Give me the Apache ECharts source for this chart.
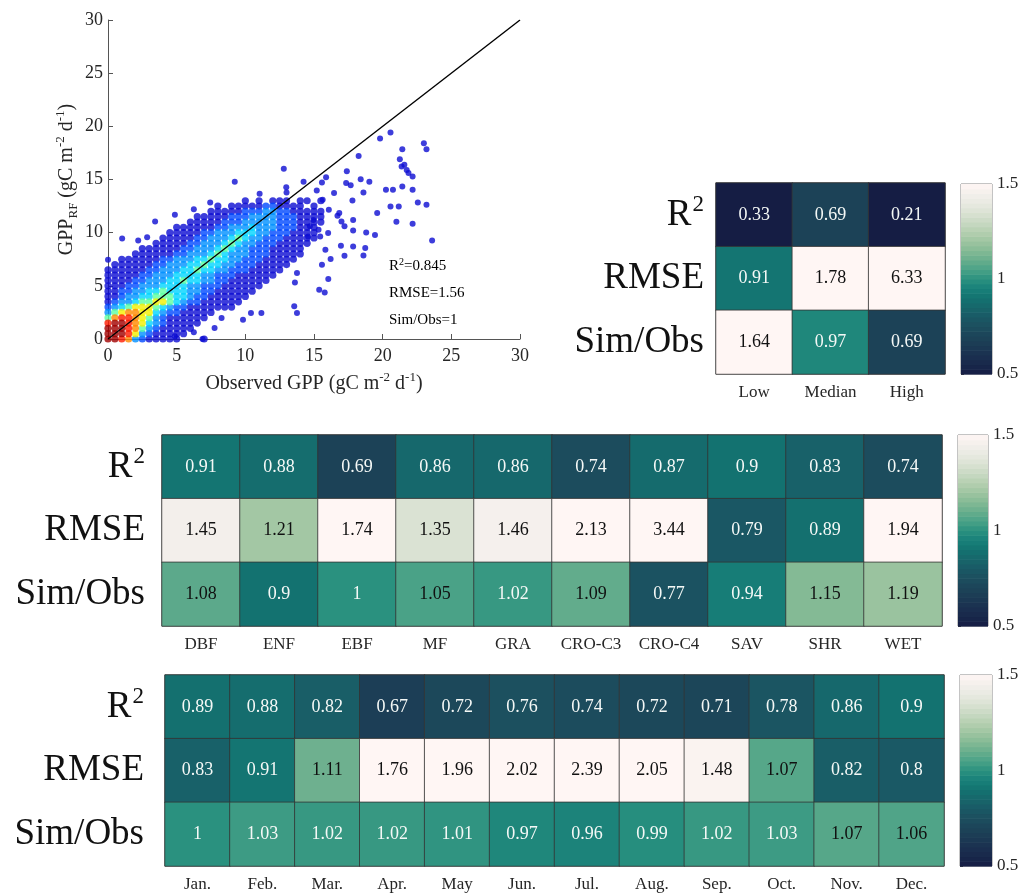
<!DOCTYPE html>
<html><head><meta charset="utf-8">
<script src="https://cdn.jsdelivr.net/npm/echarts@6/dist/echarts.min.js"></script>
<style>html,body{margin:0;padding:0;background:#fff}#c{width:1022px;height:895px}</style>
</head><body><div id="c"></div>
<script>
// ---------------- DATA ----------------
// Scatter density: rows from y=0 upward, step 0.5; columns x=0..., step 0.5
// '.' = no points, 1..9 = point-density level (1 = blue ... 9 = dark red)
const GRID_STEP = 0.5;
const densityRows = [
  "99873211111...1",                      // y=0
  "999863211111",                         // y=0.5
  "9998753211111",                        // y=1
  "89987643211111",                       // y=1.5
  "578876532111111",                      // y=2
  "3567766432211111",                     // y=2.5
  "2345666543221111111",                  // y=3
  "12334556654322111111",                 // y=3.5
  "112334455544322111111",                // y=4
  "1122334454443322111111",               // y=4.5
  "11122333444433222111111",              // y=5
  "111122333445443322111111",             // y=5.5
  "1111122333444433222111111",            // y=6
  "11111122333445443322211111",           // y=6.5
  ".11111122333445443322211111",          // y=7
  "..11111122333445443322211111",         // y=7.5
  "....1111112233345433322211111",        // y=8
  ".....111111223334543322211111",        // y=8.5
  ".......11111223334543322211111",       // y=9
  "........11111223334543322211111",      // y=9.5
  ".........1111122333444332221111",      // y=10
  "..........111111223334333222111",      // y=10.5
  "............11111222333332221111",     // y=11
  ".............1111122233332221111",     // y=11.5
  "...............11111222332211111",     // y=12
  "................1.11111221111.1",      // y=12.5
  "....................1.1.111.11.1"      // y=13
];
// isolated points outside the dense cloud [observed, simulated]
const outlierPoints = [
  [0,7.45],[1.03,9.46],[2.2,9.27],[2.85,9.58],[3.43,11.05],[4.87,11.68],[6.25,12.2],[7.44,12.84],
  [9.23,14.8],[11.04,13.65],[12.8,16.0],[12.98,14.28],[13.0,13.78],[14.24,14.8],[15.2,13.97],
  [15.58,14.72],[15.88,15.22],[15.63,13.09],[16.46,13.72],[16.71,11.6],[17.0,11.05],[17.39,15.78],
  [17.67,14.47],[17.8,13.03],[17.85,11.2],[18.25,17.22],[18.4,15.03],[18.6,13.78],[19.03,14.78],
  [19.81,18.85],[20.57,19.42],[19.6,11.84],[19.44,9.77],[18.8,10.02],[17.85,10.21],[17.85,8.71],
  [18.73,8.55],[18.6,7.86],[17.22,7.83],[16.96,8.77],[21.43,17.85],[21.38,16.22],[21.58,16.38],
  [21.75,15.9],[21.88,15.6],[22.18,15.28],[23.0,18.42],[23.19,17.85],[20.24,14.03],[20.75,14.03],
  [20.57,12.46],[21.17,12.46],[21.43,14.34],[21.25,16.9],[22.18,14.03],[22.56,12.84],[23.19,12.62],
  [21.0,11.02],[22.18,10.84],[23.6,9.27],[15.58,6.98],[16.21,7.52],[16.04,5.64],[15.38,4.64],
  [15.78,4.38],[13.76,6.2],[13.61,5.32],[13.56,3.07],[13.76,2.44],[11.17,2.44],[10.41,2.44],
  [9.83,1.82],[8.27,1.97],[7.76,1.03],[6.88,0],[6.25,0.63],[4.87,0.25],[14.57,9.65],[14.7,10.6],
  [14.95,11.2],[16.08,12.15],[16.84,11.84],[17.22,10.6],[16.03,9.96],[15.33,10.27],[15.83,8.39],
  [15.45,9.65],[17.34,14.66]
];
const oneToOne = [[0,0],[30,30]];
const scatterTicks = [0, 30, 5]; // min, max, interval

const metrics = ['R2', 'RMSE', 'Sim/Obs'];

const sizeCats    = ['Low', 'Median', 'High'];
const sizeR2      = [0.33, 0.69, 0.21];
const sizeRMSE    = [0.91, 1.78, 6.33];
const sizeSimObs  = [1.64, 0.97, 0.69];

const pftCats     = ['DBF','ENF','EBF','MF','GRA','CRO-C3','CRO-C4','SAV','SHR','WET'];
const pftR2       = [0.91, 0.88, 0.69, 0.86, 0.86, 0.74, 0.87, 0.9, 0.83, 0.74];
const pftRMSE     = [1.45, 1.21, 1.74, 1.35, 1.46, 2.13, 3.44, 0.79, 0.89, 1.94];
const pftSimObs   = [1.08, 0.9, 1, 1.05, 1.02, 1.09, 0.77, 0.94, 1.15, 1.19];

const monthCats   = ['Jan.','Feb.','Mar.','Apr.','May','Jun.','Jul.','Aug.','Sep.','Oct.','Nov.','Dec.'];
const monR2       = [0.89, 0.88, 0.82, 0.67, 0.72, 0.76, 0.74, 0.72, 0.71, 0.78, 0.86, 0.9];
const monRMSE     = [0.83, 0.91, 1.11, 1.76, 1.96, 2.02, 2.39, 2.05, 1.48, 1.07, 0.82, 0.8];
const monSimObs   = [1, 1.03, 1.02, 1.02, 1.01, 0.97, 0.96, 0.99, 1.02, 1.03, 1.07, 1.06];

const cbTicks = [0.5, 1.5, 0.5]; // colorbar min, max, interval

// ---------------- STYLE ----------------
const FONT = "'Liberation Serif','Times New Roman',Times,serif";
const TXT = '#262626';
const jetLevels = ['', '#0c0cd2', '#0048ff', '#0090ff', '#00d4ff', '#5cffa0', '#f4f000', '#ff8a00', '#ff1a00', '#a00000'];
const cmapStops = [
  [0.50,'#151d44'],[0.60,'#1b3150'],[0.70,'#1c4458'],[0.75,'#1c4e5e'],[0.80,'#1a5965'],
  [0.85,'#17666b'],[0.90,'#137270'],[0.95,'#188079'],[1.00,'#2a917f'],[1.05,'#4aa287'],
  [1.10,'#68ae8d'],[1.15,'#84ba95'],[1.20,'#9fc5a1'],[1.25,'#b5cfb1'],[1.30,'#c9d9c3'],
  [1.35,'#dae2d3'],[1.40,'#e8eae2'],[1.45,'#f3efeb'],[1.50,'#fff6f4']
];
function hex2rgb(h){return [parseInt(h.slice(1,3),16),parseInt(h.slice(3,5),16),parseInt(h.slice(5,7),16)];}
function cmap(v){
  if (v <= cmapStops[0][0]) return cmapStops[0][1];
  const last = cmapStops[cmapStops.length-1];
  if (v >= last[0]) return last[1];
  for (let k=0;k<cmapStops.length-1;k++){
    const a=cmapStops[k], b=cmapStops[k+1];
    if (v>=a[0] && v<=b[0]){
      const t=(v-a[0])/(b[0]-a[0]); const ca=hex2rgb(a[1]), cb=hex2rgb(b[1]);
      return 'rgb('+ca.map((x,i)=>Math.round(x+(cb[i]-x)*t)).join(',')+')';
    }
  }
  return last[1];
}

// ---------------- BUILD ----------------
const densityPoints = [];
densityRows.forEach((row, j) => {
  for (let i = 0; i < row.length; i++) {
    const c = row[i];
    if (c >= '1' && c <= '9') densityPoints.push([i*GRID_STEP, j*GRID_STEP, +c]);
  }
});
densityPoints.sort((a,b)=>a[2]-b[2]);

function heatData(rows){
  const out=[];
  rows.forEach((vals,r)=>vals.forEach((v,c)=>out.push({
    value:[c,r,v], itemStyle:{color:cmap(v)}, label:{color: v<1.04 ? '#f4f8f6' : '#111'}
  })));
  return out;
}
const CB_STEPS = 40;
const cbBands = [];
for (let k=0;k<CB_STEPS;k++){ cbBands.push([cbTicks[0]+(cbTicks[1]-cbTicks[0])*k/CB_STEPS, cbTicks[0]+(cbTicks[1]-cbTicks[0])*(k+1)/CB_STEPS]); }

const rowLabelRich = {
  a:{fontFamily:FONT, fontSize:37, color:'#111', lineHeight:42},
  s:{fontFamily:FONT, fontSize:23, color:'#111', verticalAlign:'top', lineHeight:42, padding:[0,0,0,1]}
};
function rowLabelFmt(v){ return v==='R2' ? '{a|R}{s|2}' : '{a|'+v+'}'; }

function heatAxes(gi, cats, margin){
  return {
    x:{type:'category', gridIndex:gi, data:cats, position:'bottom',
       axisLine:{show:false}, axisTick:{show:false}, splitLine:{show:false},
       axisLabel:{interval:0, fontFamily:FONT, fontSize:17, color:TXT, margin:10}},
    y:{type:'category', gridIndex:gi, data:metrics, inverse:true,
       axisLine:{show:false}, axisTick:{show:false}, splitLine:{show:false},
       axisLabel:{interval:0, formatter:rowLabelFmt, rich:rowLabelRich, margin:margin}}
  };
}
function cbAxes(gi){
  return {
    x:{type:'value', gridIndex:gi, min:0, max:1, show:false},
    y:{type:'value', gridIndex:gi, min:cbTicks[0], max:cbTicks[1], interval:cbTicks[2], position:'right',
       axisLine:{show:false}, splitLine:{show:false},
       axisTick:{show:true, length:3, lineStyle:{color:'#444'}},
       axisLabel:{fontFamily:FONT, fontSize:17, color:TXT, margin:5}}
  };
}
function cbSeries(gi){
  return {type:'custom', xAxisIndex:gi, yAxisIndex:gi, data:cbBands, silent:true,
    renderItem:(params, api)=>{
      const lo=api.value(0), hi=api.value(1);
      const p0=api.coord([0,lo]), p1=api.coord([1,hi]);
      return {type:'rect', shape:{x:p0[0], y:p1[1], width:p1[0]-p0[0], height:p0[1]-p1[1]+0.6},
              style:{fill:cmap((lo+hi)/2)}};
    }};
}
function heatSeries(gi, rows){
  return {type:'heatmap', xAxisIndex:gi, yAxisIndex:gi, data:heatData(rows),
    label:{show:true, fontFamily:FONT, fontSize:18},
    itemStyle:{borderColor:'#333', borderWidth:0.8},
    emphasis:{disabled:true}};
}

const hA1 = heatAxes(1, sizeCats, 12);
const hA3 = heatAxes(3, pftCats, 17);
const hA5 = heatAxes(5, monthCats, 21);
const cA2 = cbAxes(2), cA4 = cbAxes(4), cA6 = cbAxes(6);

const supRich = {
  n:{fontFamily:FONT, fontSize:20, color:TXT, lineHeight:26},
  sup:{fontFamily:FONT, fontSize:13, color:TXT, verticalAlign:'top', lineHeight:26},
  sub:{fontFamily:FONT, fontSize:13, color:TXT, verticalAlign:'bottom', lineHeight:26}
};
const annRich = {
  n:{fontFamily:FONT, fontSize:15, color:'#111', lineHeight:19},
  sup:{fontFamily:FONT, fontSize:10, color:'#111', verticalAlign:'top', lineHeight:19}
};

const frame = {show:true, borderColor:'#6a6a6a', borderWidth:1, backgroundColor:'transparent'};
const option = {
  backgroundColor:'#ffffff',
  animation:false,
  grid:[
    {left:108, top:20, width:412, height:319},
    Object.assign({left:716, top:183, width:229, height:191}, frame),
    Object.assign({left:961, top:184, width:31, height:190}, frame, {borderColor:'#888'}),
    Object.assign({left:162, top:435, width:780, height:191}, frame),
    Object.assign({left:958, top:435, width:30, height:191}, frame, {borderColor:'#888'}),
    Object.assign({left:165, top:675, width:779, height:191}, frame),
    Object.assign({left:960, top:675, width:32, height:191}, frame, {borderColor:'#888'})
  ],
  xAxis:[
    {type:'value', gridIndex:0, min:scatterTicks[0], max:scatterTicks[1], interval:scatterTicks[2],
     name:'{n|Observed GPP (gC m}{sup|-2}{n| d}{sup|-1}{n|)}', nameLocation:'middle', nameGap:32,
     nameTextStyle:{rich:supRich},
     axisLine:{lineStyle:{color:'#555', width:1}}, axisTick:{inside:true, length:5, lineStyle:{color:'#555'}},
     splitLine:{show:false}, axisLabel:{fontFamily:FONT, fontSize:18, color:TXT, margin:8}},
    hA1.x, cA2.x, hA3.x, cA4.x, hA5.x, cA6.x
  ],
  yAxis:[
    {type:'value', gridIndex:0, min:scatterTicks[0], max:scatterTicks[1], interval:scatterTicks[2],
     name:'{n|GPP}{sub|RF}{n| (gC m}{sup|-2}{n| d}{sup|-1}{n|)}', nameLocation:'middle', nameGap:28, nameRotate:90,
     nameTextStyle:{rich:supRich},
     axisLine:{lineStyle:{color:'#555', width:1}}, axisTick:{inside:true, length:5, lineStyle:{color:'#555'}},
     splitLine:{show:false}, axisLabel:{fontFamily:FONT, fontSize:18, color:TXT, margin:5}},
    hA1.y, cA2.y, hA3.y, cA4.y, hA5.y, cA6.y
  ],
  series:[
    {type:'scatter', xAxisIndex:0, yAxisIndex:0, data:outlierPoints, symbolSize:6, clip:false,
     itemStyle:{color:jetLevels[1]}, silent:true},
    {type:'scatter', xAxisIndex:0, yAxisIndex:0, clip:false, silent:true, symbolSize:7.2,
     data:densityPoints.map(p=>({value:[p[0],p[1]], itemStyle:{color:jetLevels[p[2]]}}))},
    {type:'line', xAxisIndex:0, yAxisIndex:0, data:oneToOne, symbol:'none', silent:true,
     lineStyle:{color:'#000', width:1.4}},
    heatSeries(1, [sizeR2, sizeRMSE, sizeSimObs]),
    cbSeries(2),
    heatSeries(3, [pftR2, pftRMSE, pftSimObs]),
    cbSeries(4),
    heatSeries(5, [monR2, monRMSE, monSimObs]),
    cbSeries(6)
  ],
  graphic:[
    {type:'text', left:389, top:257, style:{text:'{n|R}{sup|2}{n|=0.845}', rich:annRich}},
    {type:'text', left:389, top:286, style:{text:'{n|RMSE=1.56}', rich:annRich}},
    {type:'text', left:389, top:313, style:{text:'{n|Sim/Obs=1}', rich:annRich}}
  ]
};
const chart = echarts.init(document.getElementById('c'), null, {renderer:'canvas'});
chart.setOption(option);
</script></body></html>
